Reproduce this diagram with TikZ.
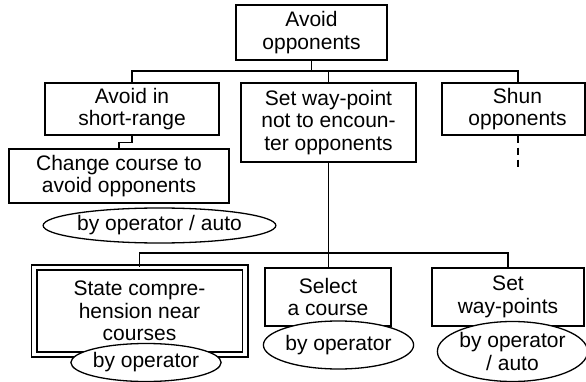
\documentclass[tikz,border=0pt]{standalone}
\usepackage{fontspec}
\setmainfont{Liberation Sans}
\usetikzlibrary{shapes.geometric}
\begin{document}
\begin{tikzpicture}[x=1pt,y=-1pt,
  every node/.style={font=\fontsize{21}{22.5}\selectfont, align=center},
  task/.style={draw, line width=1.3pt, fill=white, inner sep=0pt},
  goal/.style={task, line width=2.6pt},
  focus/.style={draw, double, line width=1.8pt, double distance=3.4pt, fill=white, inner sep=0pt},
  mode/.style={ellipse, draw, line width=1.3pt, fill=white, inner sep=0pt},
  link/.style={line width=1.3pt},
  optional/.style={link, dash pattern=on 7pt off 5pt}]
\useasboundingbox (0,0) rectangle (586,382);

% bus heights
\coordinate (busA) at (0,71);
\coordinate (busB) at (0,253);

% top level
\node[goal, minimum width=151pt, minimum height=55pt] (top) at (311.5,32.5) {Avoid\\opponents};

% second level
\node[task, minimum width=174pt, minimum height=52pt] (asr) at (132,109) {Avoid in\\short-range};
\node[task, minimum width=175pt, minimum height=79pt] (swp) at (328.5,122.5) {Set way-point\\not to encoun-\\ter opponents};
\node[task, minimum width=143pt, minimum height=52pt] (shun) at (513.5,109) {\hspace*{8pt}Shun\\\hspace*{8pt}opponents};
\coordinate (shunTap) at (518,109);
\path (shunTap |- shun.south) coordinate (shunFoot) ++(0,35) coordinate (shunEnd);

% short-range branch
\node[task, minimum width=220pt, minimum height=54pt] (chg) at (119,176) {Change course to\\avoid opponents};

% way-point branch
\node[focus, minimum width=211pt, minimum height=86.5pt] (scn) at (139.5,311) {State compre-\\hension near\\courses};
\node[task, minimum width=126pt, minimum height=58pt] (sel) at (328,297) {Select\\a course};
\node[task, minimum width=152pt, minimum height=58pt] (swps) at (508,297) {Set\\way-points};

% connectors
\draw[link] (top.south) -- (top.south |- busA);
\draw[link] (asr.north) |- (shunTap |- busA) -- (shunTap |- shun.north);
\draw[link] (swp.north) -- (swp.north |- busA);
\draw[link] (asr.south) -- ++(0,7) -| (chg.north);
\draw[optional] (shunFoot) -- (shunEnd);
\draw[link] (swp.south) -- (swp.south |- sel.north);
\draw[link] (scn.north) |- (swps.north |- busB) -- (swps.north);

% operating modes, drawn over the boxes
\node[mode, minimum width=215pt, minimum height=35pt] (m1) at (159.5,225.5) {by operator / auto};
\node[mode, minimum width=148pt, minimum height=38pt] (m2) at (146,362.5) {by operator};
\node[mode, minimum width=137pt, minimum height=48pt] (m3) at (338.5,345) {by operator};
\node[mode, minimum width=147pt, minimum height=60pt] (m4) at (512.5,351.5) {by operator\\/ auto};
\end{tikzpicture}
\end{document}
